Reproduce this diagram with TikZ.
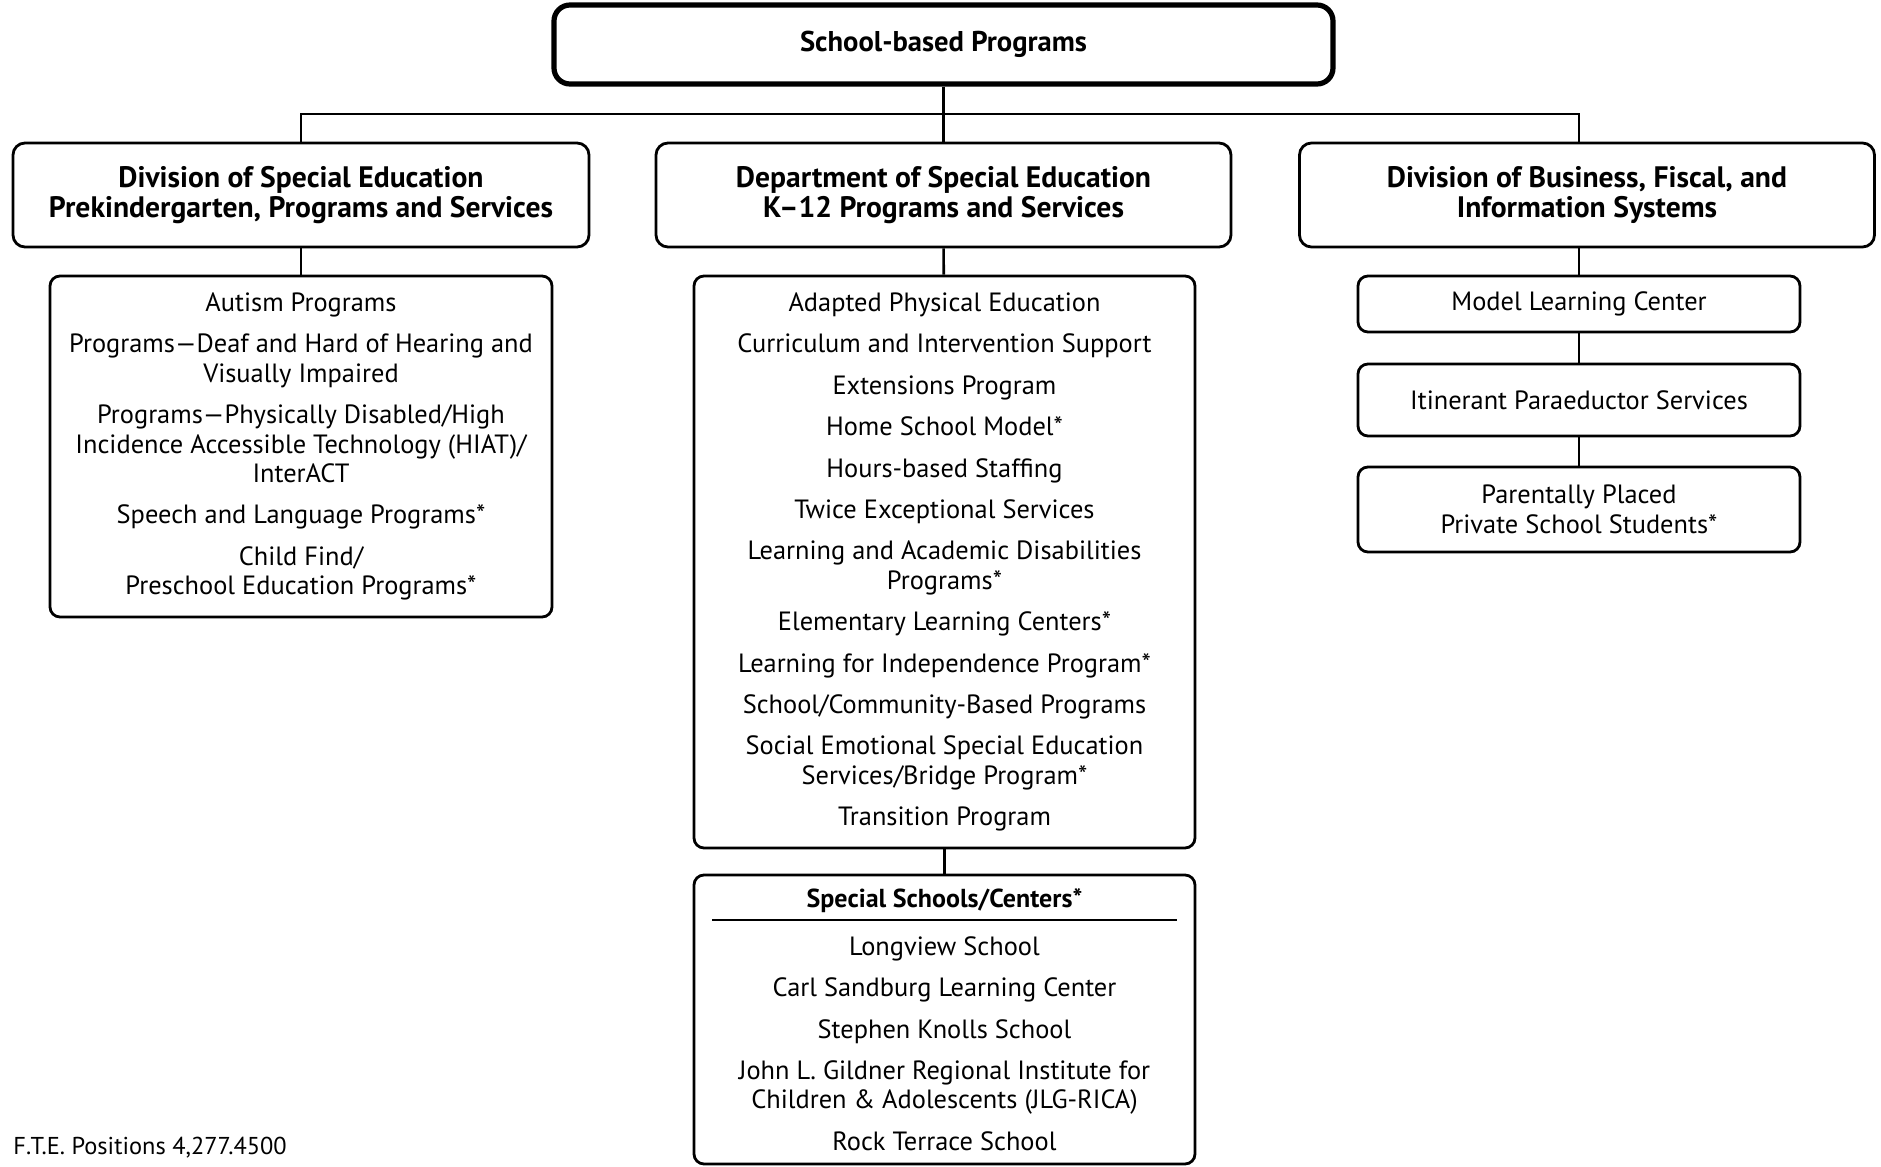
\documentclass[tikz,border=0pt]{standalone}
\usepackage{fontspec}
\setmainfont{PT Sans}
\usetikzlibrary{positioning}
\tikzset{
  unitbox/.style={draw,rounded corners=5pt,line width=1.4pt,align=center,inner sep=0pt},
  headbox/.style={unitbox,rounded corners=6pt,font=\fontsize{14.8}{15}\selectfont\bfseries},
  listbox/.style={unitbox,font=\fontsize{13.2}{14.7}\selectfont},
  link/.style={line width=1.3pt},
}
\begin{document}
\begin{tikzpicture}[x=0.5pt,y=-0.5pt]
\useasboundingbox (0,0) rectangle (1881,1167);
% top of the tree
\node[headbox,font=\fontsize{14.3}{15}\selectfont\bfseries,line width=2.6pt,rounded corners=8pt,minimum width=389.5pt,minimum height=39.5pt] (top) at (943.5,44.5) {School-based Programs};
% the three units
\node[headbox,minimum width=288pt,minimum height=52pt] (dpk) at (301,195) {Division of Special Education\\Prekindergarten, Programs and Services};
\node[headbox,minimum width=287.5pt,minimum height=52pt] (dept) at (943.5,195) {Department of Special Education\\K–12 Programs and Services};
\node[headbox,minimum width=287.5pt,minimum height=52pt] (dbf) at (1587,195) {Division of Business, Fiscal, and\\Information Systems};
% programs under each unit
\node[listbox,minimum width=251pt,minimum height=170.5pt] (pkprog) at (301,446.5) {Autism Programs\\[6pt]
  Programs—Deaf and Hard of Hearing and\\Visually Impaired\\[6pt]
  Programs—Physically Disabled/High\\Incidence Accessible Technology (HIAT)/\\InterACT\\[6pt]
  Speech and Language Programs*\\[6pt]
  Child Find/\\Preschool Education Programs*};
\node[listbox,minimum width=250.5pt,minimum height=286pt] (kprog) at (944.5,562) {Adapted Physical Education\\[6pt]
  Curriculum and Intervention Support\\[6pt]
  Extensions Program\\[6pt]
  Home School Model*\\[6pt]
  Hours-based Staffing\\[6pt]
  Twice Exceptional Services\\[6pt]
  Learning and Academic Disabilities\\Programs*\\[6pt]
  Elementary Learning Centers*\\[6pt]
  Learning for Independence Program*\\[6pt]
  School/Community-Based Programs\\[6pt]
  Social Emotional Special Education\\Services/Bridge Program*\\[6pt]
  Transition Program};
\node[unitbox,minimum width=250.5pt,minimum height=144.5pt] (ssbox) at (944.5,1019.5) {};
\node[font=\fontsize{13}{14}\selectfont\bfseries] (sshead) at (944.5,901) {Special Schools/Centers*};
\draw[line width=0.7pt] (712,920) -- (1177,920);
\node[font=\fontsize{13.2}{14.7}\selectfont,align=center] (sslist) at (944.5,1043.5) {Longview School\\[6pt]
  Carl Sandburg Learning Center\\[6pt]
  Stephen Knolls School\\[6pt]
  John L. Gildner Regional Institute for\\Children \& Adolescents (JLG-RICA)\\[6pt]
  Rock Terrace School};
\node[listbox,minimum width=221pt,minimum height=28pt] (model) at (1579,304) {Model Learning Center};
\node[listbox,minimum width=221pt,minimum height=36pt] (para) at (1579,400) {Itinerant Paraeductor Services};
\node[listbox,minimum width=221pt,minimum height=42.5pt] (priv) at (1579,509.5) {Parentally Placed\\Private School Students*};
\node[font=\fontsize{12.2}{13}\selectfont,anchor=west,inner sep=0pt] (fte) at (13,1148) {F.T.E. Positions 4,277.4500};
% connectors
\coordinate (bus) at (943.5,114);
\draw[link] (top) -- (dept);
\draw[link] (dpk.north) |- (bus) -| (model.north |- dbf.north);
\draw[link] (dpk) -- (pkprog);
\draw[link] (dept) -- (kprog);
\draw[link] (kprog) -- (ssbox);
\draw[link] (model.north |- dbf.south) -- (model);
\draw[link] (model) -- (para);
\draw[link] (para) -- (priv);
\end{tikzpicture}
\end{document}
